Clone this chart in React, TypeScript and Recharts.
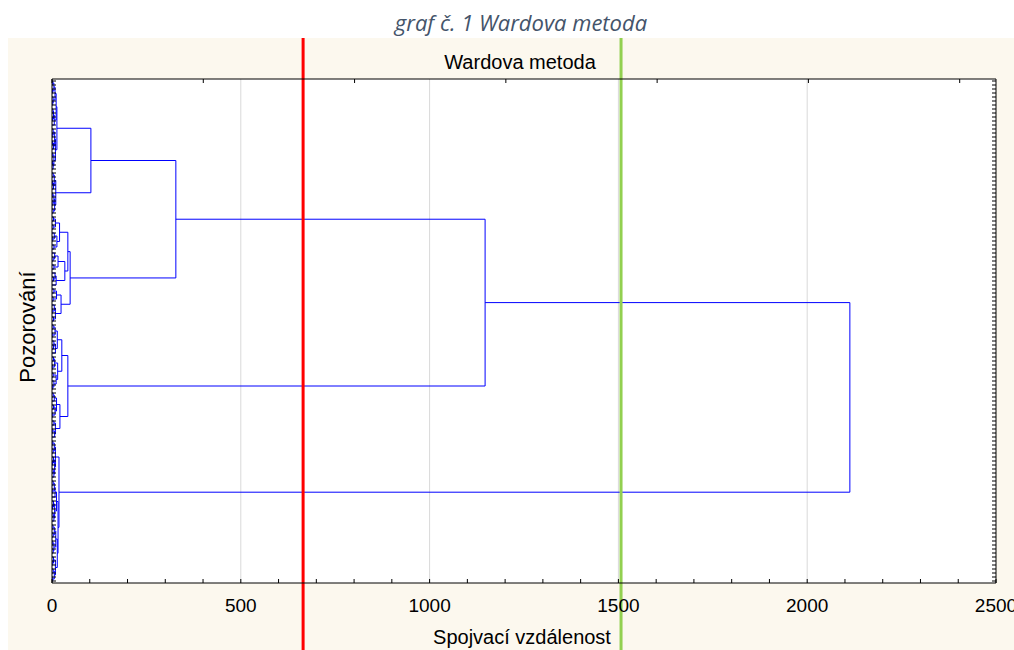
import { LineChart, Line, XAxis, YAxis, CartesianGrid, ReferenceLine } from 'recharts'

const clusterA1aGaps = [2, 5, 1.5, 8, 3, 2, 11, 2.5, 4, 1, 6, 13, 3, 2, 7, 1.5, 4, 9, 2, 5, 1, 3, 103, 3, 6, 1.5, 4, 10, 2, 5, 2.5, 7, 3]
const clusterA1bGaps = [4, 9, 3, 20, 6, 2, 13, 5, 42, 7, 3, 16, 5, 34, 8, 4, 11, 48, 5, 12, 3, 24, 6, 2, 9, 4]
const clusterA2Gaps = [3, 8, 2, 14, 5, 4, 9, 26, 4, 7, 2, 15, 3, 11, 5, 2, 42, 3, 6, 12, 4, 8, 2, 21, 5, 9, 2, 7]
const clusterBGaps = [2, 6, 3, 9, 4, 1.5, 7, 3, 5, 18.5, 3, 6, 2, 8, 12, 4, 1.5, 7, 3, 5, 16, 2.5, 6, 3, 10, 2, 5, 3, 14, 4, 2, 9, 3, 6, 2]
const joinA1 = 328
const joinA = 1147
const joinRoot = 2113

const distanceTicks = [0, 100, 200, 300, 400, 500, 600, 700, 800, 900, 1000, 1100, 1200, 1300, 1400, 1500, 1600, 1700, 1800, 1900, 2000, 2100, 2200, 2300, 2400, 2500]
const labelTicks = [0, 500, 1000, 1500, 2000, 2500]
const gridLines = [500, 1000, 1500, 2000]
const cutLines = [
  { x: 665, color: '#ff0000' },
  { x: 1507, color: '#92d050' },
]

const CHART_W = 1006
const CHART_H = 612
const FONT = '"Liberation Sans", Arial, sans-serif'

const gaps = [...clusterA1aGaps, joinA1, ...clusterA1bGaps, joinA, ...clusterA2Gaps, joinRoot, ...clusterBGaps]
const leafCount = gaps.length + 1
const leafPositions = Array.from({ length: leafCount }, (_, i) => i + 1)

type Point = { d: number; pos: number | null }
type Node = { pos: number; h: number }

// the biggest gap in a run of leaves is where it splits; each split is one U-shaped link
const segments: Point[] = []
const build = (lo: number, hi: number): Node => {
  if (lo === hi) return { pos: lo + 1, h: 0 }
  let m = lo
  for (let i = lo; i < hi; i++) if (gaps[i] > gaps[m]) m = i
  const left = build(lo, m)
  const right = build(m + 1, hi)
  const h = gaps[m]
  segments.push(
    { d: left.h, pos: left.pos },
    { d: h, pos: left.pos },
    { d: h, pos: right.pos },
    { d: right.h, pos: right.pos },
    { d: h, pos: null }
  )
  return { pos: (left.pos + right.pos) / 2, h }
}
build(0, leafCount - 1)

const BottomTick = ({ x, y, payload }: any) => (
  <g>
    <line x1={x} x2={x} y1={y} y2={y - 4} stroke="#000" />
    {labelTicks.includes(payload.value) && (
      <text x={x} y={y + 29} textAnchor="middle" fontSize={19} fontFamily={FONT} fill="#000">
        {payload.value}
      </text>
    )}
  </g>
)

const TopTick = ({ x, y }: any) => <line x1={x} x2={x} y1={y} y2={y + 4} stroke="#000" />

const LeafTick = ({ x, y, side }: any) => <line x1={x} x2={x + side * 4} y1={y} y2={y} stroke="#000" />

const CutLine = (color: string) => (props: any) => (
  <line x1={props.x1} x2={props.x2} y1={0} y2={CHART_H} stroke={color} strokeWidth={3} />
)

export default function App() {
  return (
    <div style={{ position: 'absolute', left: 0, top: 0, width: 1014, height: 650, overflow: 'hidden', background: '#fff' }}>
      <div
        style={{
          position: 'absolute', left: 321, top: 8, width: 400, textAlign: 'center',
          fontFamily: '"Open Sans", sans-serif', fontStyle: 'italic', fontSize: 22, color: '#44546a', lineHeight: '28px',
        }}
      >
        graf č. 1 Wardova metoda
      </div>
      <div style={{ position: 'absolute', left: 8, top: 38, width: CHART_W, height: CHART_H, background: '#fcf8ee' }}>
        <div style={{ position: 'absolute', left: 312, top: 12, width: 400, textAlign: 'center', fontFamily: FONT, fontSize: 20, lineHeight: '24px' }}>
          Wardova metoda
        </div>
        <div style={{ position: 'absolute', left: 314, top: 587, width: 400, textAlign: 'center', fontFamily: FONT, fontSize: 20, lineHeight: '24px' }}>
          Spojvací vzdálenost
        </div>
        <div
          style={{
            position: 'absolute', left: 20, top: 289, transform: 'translate(-50%, -50%) rotate(-90deg)',
            whiteSpace: 'nowrap', fontFamily: FONT, fontSize: 22, lineHeight: '26px',
          }}
        >
          Pozorování
        </div>
        <div style={{ position: 'absolute', left: 0, top: 0 }}>
          <LineChart width={CHART_W} height={CHART_H} data={segments} margin={{ top: 37, right: 14, bottom: 37, left: 40 }}>
            <CartesianGrid fill="#fff" horizontal={false} vertical={false} xAxisId="bottom" yAxisId="left" />
            <XAxis
              xAxisId="bottom" dataKey="d" type="number" domain={[0, 2500]} allowDataOverflow
              ticks={distanceTicks} interval={0} height={30} tickSize={0} tickMargin={0} tickLine={false}
              axisLine={{ stroke: '#000' }} tick={<BottomTick />}
            />
            <XAxis
              xAxisId="top" orientation="top" type="number" domain={[0, 2500]} allowDataOverflow
              ticks={distanceTicks} interval={0} height={4} tickSize={0} tickMargin={0} tickLine={false}
              axisLine={{ stroke: '#000' }} tick={<TopTick />}
            />
            <YAxis
              yAxisId="left" type="number" domain={[0.5, leafCount + 0.5]} allowDataOverflow reversed
              ticks={leafPositions} interval={0} width={4} tickSize={0} tickMargin={0} tickLine={false}
              axisLine={{ stroke: '#000' }} tick={<LeafTick side={1} />}
            />
            <YAxis
              yAxisId="right" orientation="right" type="number" domain={[0.5, leafCount + 0.5]} allowDataOverflow reversed
              ticks={leafPositions} interval={0} width={4} tickSize={0} tickMargin={0} tickLine={false}
              axisLine={{ stroke: '#000' }} tick={<LeafTick side={-1} />}
            />
            {gridLines.map((v) => (
              <ReferenceLine key={v} x={v} xAxisId="bottom" yAxisId="left" stroke="#d9d9d9" strokeWidth={1} />
            ))}
            <Line
              xAxisId="bottom" yAxisId="left" dataKey="pos" type="linear" stroke="#0000ff" strokeWidth={1}
              dot={false} activeDot={false} connectNulls={false} isAnimationActive={false}
            />
            {cutLines.map((c) => (
              <ReferenceLine key={c.x} x={c.x} xAxisId="bottom" yAxisId="left" stroke={c.color} shape={CutLine(c.color)} />
            ))}
          </LineChart>
        </div>
      </div>
    </div>
  )
}
